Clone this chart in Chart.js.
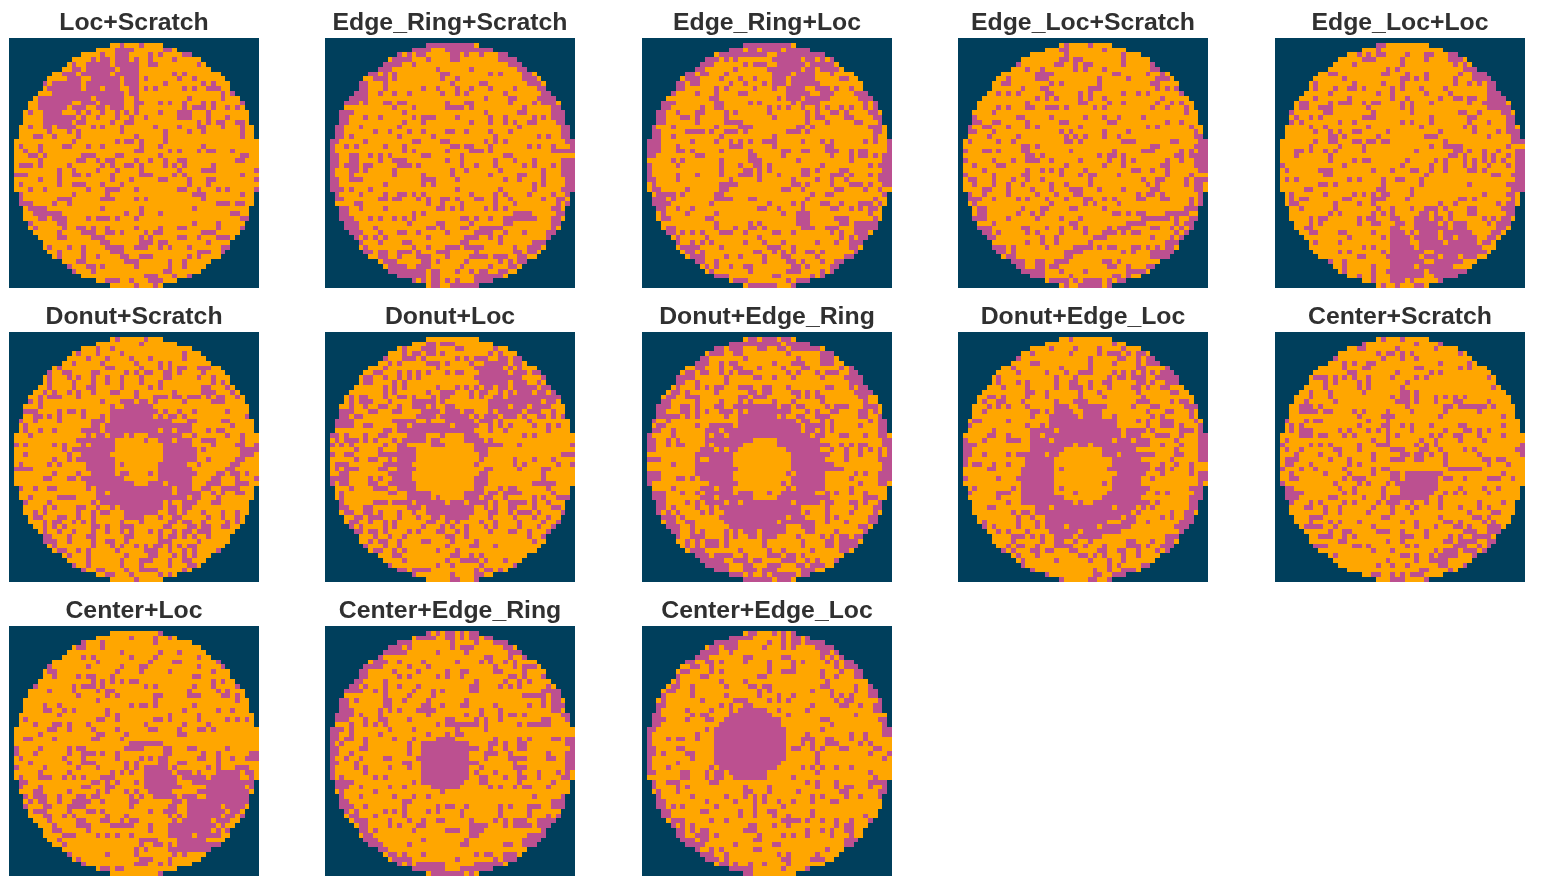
<!doctype html>
<html lang="en">

<head>
  <meta charset="utf-8">
  <title>Mixed wafer maps</title>
  <script src="https://cdn.jsdelivr.net/npm/chart.js@4.4.2/dist/chart.umd.min.js"></script>
  <style>
    body { margin: 0; background: #fff; }
    canvas { position: absolute; }
  </style>
</head>

<body>
  <script>
    const titles = ['Loc+Scratch', 'Edge_Ring+Scratch', 'Edge_Ring+Loc', 'Edge_Loc+Scratch', 'Edge_Loc+Loc',
      'Donut+Scratch', 'Donut+Loc', 'Donut+Edge_Ring', 'Donut+Edge_Loc', 'Center+Scratch',
      'Center+Loc', 'Center+Edge_Ring', 'Center+Edge_Loc'];

    // first and last die column of wafer rows 1..51
    const rowStart = [21, 18, 15, 13, 12, 11, 9, 8, 7, 7, 6, 5, 4, 4, 3, 3, 3, 2, 2, 2, 1, 1, 1, 1, 1, 1, 1, 1, 1, 1, 1, 2, 2, 2, 3, 3, 3, 4, 4, 5, 6, 7, 7, 8, 9, 11, 12, 13, 15, 18, 21];
    const rowEnd = [31, 34, 37, 39, 40, 41, 43, 44, 45, 45, 46, 47, 48, 48, 49, 49, 49, 50, 50, 50, 51, 51, 51, 51, 51, 51, 51, 51, 51, 51, 51, 50, 50, 50, 49, 49, 49, 48, 48, 47, 46, 45, 45, 44, 43, 41, 40, 39, 37, 34, 31];

    // failing die columns, one string per wafer row 1..51
    const locScratch = ['23 27', '22-25 32-33', '19 22-24 29 31 36-37', '17 19-20 22-24 26 29 34', '13 16-20 22-26 29-30 39', '13-14 16-21 23-26', '11-13 15-20 22-26 34 36', '12-14 17-22 24-26 28 35 38', '7 9-14 16-22 24-26 32 40 42', '8-14 16-18 20-22 25-26 28 30 36 38 41-43', '9-23 25-26 44 46', '6-16 18-23 26 37 44', '6-12 15-17 19-23 26-27 31 33 36 40 42 48', '6-11 13-15 18-19 21-23 26 36 38-40 42 45 47', '4 7-10 14 16 19 22 24 26 31 35-37 41', '7-13 15 18 22 25 28 35-37 41 45', '7-12 14-15 21 24-25 39 41 43-44 47-48', '4 7-8 10-13 17 19 23 30 35 39-40 44 48', '8 12 14 23 32 37 40 48', '5-6 9 14 26 32 48', '13 22 24-25 27 32', '2 6 11-12 16 19 27 31 40', '3 6 26-27 33 35 39 41-42 46', '4-5 7 15-17 22-23 31 48-49', '6 14-15 18 20-21 26 29 32 35-36 47-48', '2-4 6 12 19 21 24-25 27 32 34 36 42', '10 13 18 22 27 35 40-42 51', '1-3 10 13-14 16 21 27-29 34 36 48', '6 10 21 25 31-32 37 41-42 51', '2 10 13-15 19 23 37 41', '4 7 16 20-22 26 35-36 39 43 45 51', '2 13 20 38-40 48', '1-2 10-12 19-21 26 28 40', '2-4 9 12 43-45 47-48', '4-7 19 27 38', '5-10 24 27 31 46-47', '6-7 9-11 16 18-20 22 26 48-49', '4 10-11 38 43', '5 11 14-15 17 20 26 31 35-36 43 48', '10 15-17 20-21 23 28 30-31 40-42', '10-11 17-19 27 29 35-36 39 43-45', '19-20 27-29 31-32 41', '8 12 15 20-23 26-28 31 33 37 44-45', '10 15 21-23 39-41 44', '10 15 18 23-24 27-29 37 39', '14-15 24-26 33 36', '12 16-17 19 26 33 36', '13 17 32-33', '28-30 34 37', '20-22 25 29-31', '26 30'];

    const edgeRingScratch = ['21-30', '18-21 25-34', '15 17 19-20 26-27 29 32 36-37', '14-17 21 26-27 36-39', '12-15 18 38-40', '11-13 23 30 40-41', '9-10 12 14 24-25 34 36 41-42', '10-12 14 24 27 41-43', '7-8 12 26 32-33 42-44', '7-8 12 20 23 27 30 34 39 44-45', '6-8 11 14 17 24 27 29 37 45-46', '5-7 8 33 38-39 44-47', '4-6 8 12-13 15-16 25 29-30 38 43 45 46-47', '14 18 25-28 30 41 47-48', '3-5 16 33 40-41 47-49', '3-4 8 11 18 20-22 27 34 37 43 45 47-49', '3-4 16 20 30 34 37 39 42-43 48-49', '2-3 7 15 40 49-50', '2-3 10 13 17 20 25-26 29 34 38 49-50', '2-3 5 15 22 35 44 46 49-50', '1-2 8 18-19 24-25 33 35 37 50-51', '1 4 6 12 16 26-27 29-30 34 42 44 47 51', '1 16 18 25 30-32 34 47 48-51', '1-2 5-6 9 11 13 20-21 28 37-38', '1-2 5-6 11 14-16 25 28 35 39 43 49-51', '1-2 4-6 8-9 15-17 19 28 31 35 41 43 47 49-51', '1 5-6 8 14 26 29 36 45 49-51', '1 5 14 20 26 34 40-41 45 49-51', '1-2 5-7 20-22 27 37 40 45 50-51', '1-2 12 20 22 43 45 50-51', '1-3 5 9 27 36 43 49-51', '2 7 12 15-16 18 20 30 35 37 42 47 50', '2-3 11-12 14-15 19 21 24-25 27 31-32 35 38 45 48-49', '6-7 21 24 28 35 39 48 50', '3-4 7 12 23-24 26 28 33 35 37 47-48', '3-4 18 20 39-42 48-49', '3-5 9 11 14 16 18 28-29 31 34 37-43 47-48', '4-6 17 23-24 30 37-38 47-48', '4-6 10 21-22 24 28-29 32-36 47', '5-7 11 15-16 19 25 31-34 37 41 46-47', '6 8 10 12 21 29-31 34 36 46', '7 11 16-17 28-29 36 43-45', '8 18 21 25-27 29-32 39 42-44', '8-9 11-12 15-17 19 23-25 31 39-40 42-43', '11-12 15 19-21 25 30-33 35-37 40-41', '12-14 20-21 23 29 36 38 40-41', '13-16 19-21 28 34 38-39', '13-20 22-23 27 30 32-33 36-37', '15-20 22-23 31 32-36', '17-18 20 22-23 25 27 31-34', '22-23 26-31'];

    const edgeRingLoc = ['21-30', '18-20 22-23 25-28 30-34', '16-19 20-25 28-34 35-37', '13-15 17 19 27-32 34-35 37 39', '12-14 21 23-25 28-33 35-39', '11-12 19 26-32 34-35 37-40', '9-10 12-13 17 27-30 32-35 39', '9-11 16 20 23 27-29 31-35 41-42', '7-8 10-11 18 21 25 27-29 31-36', '7-8 15 17 23 27 30-33 36-38 40 43', '6 11 15 20-21 30-34 37-39 44-46', '14-15 28 30-32 34-37 38 45-47', '4-6 15-16 22 24 31 33-36 46 48', '4-5 12 15-16 26 28 30 33 36 38 41 43 46 48', '3-4 7 11-12 17 19 26 34 36 39-40 42 47-48', '3-4 8-9 11 17 27 34 36-37 42-43 48-49', '3-4 11 17-20 34 38 44-45 49', '2 6 15 20-22 32 33 35 47-49', '2-3 9-12 14 17-19 21 30-32 34 48-49', '2-3 6 16 27 48', '1-3 10 15 18 20 22 25-27 33 37 39 46 48 51', '1-3 7 18-20 27 38-39 51', '1-3 7-8 10 16 22 29-30 33-34 38-40 43 45-46 51', '1-2 11-12 22-23 29 39 43 45-46 48 50-51', '6 8 16 22-24 32 43 50-51', '1 7 16 20 23-24 26 37 47 49-51', '1 16 21-22 24 26 33-34 36 41-42 50-51', '1 7 11 16 20-22 24 28 33-34 39-41 43 47 49-51', '1-2 7 18 24 31 36 39 42 49-51', '2 16-18 19 31-32 34 39 43-45 47 50-51', '2-3 9 16-17 29-30 33 40-41 46 49', '3-6 8 15-16 35 38-39 50', '2-4 6 15-16 17-18 22-23 34 48', '2-5 14 26 31 33 37-38 41 45-47 49', '3-4 7 10 24-25 28 33 39-40 43 45 47-48', '4 9 15 29 32-34 47', '4-5 13-14 32-34 40-42 48', '3 15 22 24 32-34 41-42 44-48', '5-6 15 19 22-23 25 33-35 38-40 44-48', '5-6 8 10 12 16-18 21 27-28 31 39 41 44-46', '7 13 24 41 43 45-46', '7 10 12 14 21 25 29 36 40 43 44-45', '8-10 11 16 26-28 31 43-44', '9-10 12 23-24 27 29 31 34-35 37 44', '10-12 17 20 25 29-30 36 42-43', '11-12 15 25 30-31 33 37 40-42', '13 15 18 21-22 31-32 34 39-40', '14 22 30-32 37 39-40', '14-17 27-28 35 37-38 39', '15-17 19-21 30 32-34', '22-24 25-27 31 33'];

    const edgeLocScratch = ['22 27', '21-22 30', '22 34', '21-22 24 25 34', '12 20-21 24 26 27 34 40', '14 17 24 26 30 40-41', '16-19 32-33 39 42', '10 16-18 29 35 41-43', '9-10 19 21 29 40-41', '13 17-18 27 28-29 41 43 45', '8 10 12 18-19 25 27 34 37 39 46', '16 18 20 25 27 30 42', '14 25-26 31 34 41 44 46', '8 10 14-15 18-20 22 28 30 40 43 47', '7 47', '3 12-13 19 26 30 33 38', '3-4 7-8 14 21-22 31-32 43 46', '2 5-6 10 14 16 25 39 41 48', '2-3 7 21 23 30 35 49', '6 12 22 24 26 30 33 49-50', '2 8 11 22-23 25 34-36 44-45 50-51', '13-14 16 40 41 49-51', '1 5-6 8 13-14 23 32 38-40 46 48 50-51', '14-15 17 29 31-32 34 45-46 48-51', '1 7 11 14-16 19 25 31 34 36 43 46 49-51', '3 8-9 22 30 34 42-43 49-51', '5 14 17 19 21 26 36-37 40 43 50-51', '1 7 13-14 21 25 27-28 33 43 48', '2-3 7 11 14 17 27 38 41-42 47 49-51', '3 7 10 13 19 22 27 39 41 47 49-50', '5-6 10 15 19 23-25 29 34 40-41 49-50', '2 5 10 16 20 24-25 37 39-40 42 50', '2-4 7 12 14 18 22 26-27 30 32 37-38 42-43 48 50', '3 19 26 28 33 48 50', '4-5 13 17-18 23-24 30 47-49', '4-5 12 15 17 32-33 35 37-38 43-47', '3-5 10 16 21 25 38-43 45 48-49', '7 23-24 35-38 45 47-48', '4-6 13-14 18 21 24 26 31 33-35 40-41 44 46 48', '5-6 8 14 16 21 26 30-32 34 36-37 45 47', '6-7 17 20 28-30 40 44 46', '14 17 20 27 43-45', '7-9 11 18 24-27 29 31-32 36 37 39 41 43-44', '8-9 11 22-23 24-25 34 36 40-44', '10 11 22-23 40-43', '11-13 16-17 20-22 30-31 33 42', '12-13 16-17 19-20 31-32 35 39-40', '13-14 15 16-17 21 26 35-38', '15-17 23 32-33 35', '19-22 24 26-29 31 33-34', '22 25-29 31'];

    const edgeLocLoc = ['21-22', '21', '17 19 21-22 27 31-32 36-37', '18-20 26 31 36-38', '16 26 37 39', '23 25 39-41', '11-12 22-23 27 31 38 41-43', '14 26-27 29 31 37 41-44', '8 16 22 26 37 40 42 44-45', '8 12 15-16 18 24 26 30 35 44-45', '11 21 24 31 36 44-46', '8 15 24 27 34 37-38 40-41 44-47', '5-6 11 13-15 18 20-21 26 28 32 40 43 44-47', '5-6 9-11 19 26 28 44-48', '3 10-11 20 28 38-39 42 47-48', '4 7 9 18-20 32 40-41 48-49', '3 5 13 16 26 28 32 40 44 48-49', '7 10 19 30 39 41 48-49', '8 11 13 16-17 23 34 41 46 48-50', '11-12 14 21 31-33 44 49-50', '8 11-12 16-17 19-20 22-23 35 49-51', '7 13 18 32 35-37 38 48', '4-5 7 10 12 18 29 37-38 40 43 46 50-51', '4 11 36-37 39 43 45 48 50-51', '11 16 18-19 27 33 35 39 41 43 45 47 50-51', '1 14 26 32 35 39 41 44 48 50-51', '2 9-11 20 24 28-29 32 35 40-41 43 50-51', '10-11 31 45-46 49-51', '2 4 15 17 22 25-26 30 50-51', '9-10 12 22 30 40 48-51', '6-7 21-22 28 49-51', '3 10 16 18 20 22-23 28 43 48-49', '3 5-6 14-15 20-22 27 38-39 41 49', '3-4 12 17 20 34 37 46 48-49', '5 12 21 24 28 31-33 35 40-41 47-49', '11 13 20 22 24 30-31 33 36 40-41 48-49', '7 9-10 17 19-20 24 25 29-31 33-34 36 43 45 47-48', '7 9 17 20-21 25-26 29-33 35 37-39 44 46-48', '6-7 24-25 29-35 37-39 46-47', '7-8 13-14 20 24-26 28 30-33 35-38 39-40 45-46', '15 22 24-27 29-33 35-36 38-41 44-45', '8 13 24-27 30-34 36-41 43-44', '18 20 24-28 30-42', '13 15 22 24-30 33-43', '17-18 23-29 31-33 35-37 39-41', '11 14 24-30 33-38', '11 14 20 24-28 30-36', '12 14 20 23-30 32-40', '17 20 24-27 28-30 33 34-39', '16 20 24-26 28 34-36', '19 22 25 29-30'];

    const donutScratch = ['22 28', '27', '14 18 21', '14 18 23 36', '16 20 25 29 36', '13 19 26 31 33', '10 20 21 27 31 33 35 36 39 40 41', '8 11-12 17-18 24 26 28-29 32-33 35 40', '8 12 14 17 20 23 27 32-33 39 42', '8 13 17 20 23 27 31 42 44', '8 13 16-17 23 29 31 40-41 45', '7 9 12 14 17 21-22 26 34 40-42 46', '6 8 9-10 14 26 30-32 34-35 37-39 41 43-44 47', '4 6 19 23-25 27-28 30 36 42-44', '6 21 24-29', '3-5 10 12-13 15 21-30 32 35 38 45', '5-6 8 10 15 19 21-29 31 33-34 36 49', '2 5 10 17-19 21-33 37-38 44-45', '3 17-18 20-37 46', '3 6 9 15-18 20-30 32-33 35-37 41 43-44', '4 16 18-19 21-23 25 29-35 38 45 48', '14-21 28 31-33 35-37 40-42 48', '1 3 9 11 15 17-21 32-37 42 47-48 51', '11 13-21 32-38 40 48-51', '3 12 15-20 32-38 48-50', '9 12 14-21 32-38 41 47-48', '2 8 10 16-21 23 31-36 39 46-47', '1-4 16-21 31-37 45-46', '9 14 17-21 23-24 29 31-38 43-44 46-47 49', '7-8 12-13 15-23 31-37 42-43 47 51', '16-25 29-31 33-37 41-43 47-49', '2 5 8-9 16 18-33 35-37 40-41 44-47', '18-19 21-33 35-39 42 44 47-48', '4 10-12 13 18-36 38-39 43', '3 8 17 19-31 33 36-38 42-43', '7 9 14-15 18 21 23-31 33-34 36-37', '5 7 14 17 19-20 24-30 33-34 36 40 44 47', '5-6 10-11 14 17 24-26 27 31 34-35 41 44 47', '7 9-10 13 15 17 23 27 33-34 36-37 40 45 47', '7 9 11 17-18 20 23-25 32-33 37-38 40-41 44-45 48', '7 10 13 17 20 23 25 29 31 34 36-37 39-41 48', '7-8 12 16-17 24-25 31 33-34 36 38 41', '7-9 12 17 20-21 24 31-33 39', '9 17 21 23 26 28 30-31 33 35 37-38', '10-11 14 16 22 28-30 33 36 38 43', '12 16 24 29-30 34 36 38', '16 23 27-29 33 36-37', '13 16 23 27 33 37-38 40', '15 18-19 24 27-29 30 36', '17 20-21 25 31 33', '26'];

    const donutLoc = ['', '21-22 24 25-26', '16 20-22 27-28 35', '16 18-19 21-22 24 34 36', '12 16-18 20 27 29 31-33 36-37 39-41', '13 15 21-23 25 30 33-37 39-40 42', '12 23 31-36 38 40', '10-11 15 17 19 21 25 27-28 32-37 39-41 43 44', '8-9 12 15 17 19 31-37 38-40 45', '8-9 14 16 32-37 39-41 44', '12 14 16 23 27 29 31 33-34 36-37 39-43 45-46', '12 14 21 24-25 26 30 32 33 36 38 40-42 44-45 47', '5 7-8 12 15-16 18 22 24-25 30 32 35-36 38-47 48', '5 7-9 13 18-22 24 34-44 46 47', '5 8 11-12 15 18-20 22 25-26 34-37 39-41 43-44 45-46', '3-5 9-10 14-15 20-23 25-27 29-30 34 36-38 39-40 42-44 47', '3-4 6-7 19-22 24-25 26-29 31 33-35 37-39 41 44-45 47 49', '2-5 14-15 16-18 21 25-29 30 32 33-34 36 42', '2-5 8-9 15-16 18-25 27-31 34 36 38 43 46 48', '12-13 15-17 18-26 27-30 34 37 46', '1-2 4 8 11-12 17-20 24 29-31 41 43', '2 4-6 8 10 14 16-20 22-23 29-32 34', '1 3 5 12 15-16 22-24 31-36 40 51', '6 11 15-18 31-33', '1 4-5 11-18 32-33 49-51', '6 9-10 13 15-18 32 39 43 47', '2-4 12-17 31 39 41 48 51', '2 4-6 11-12 15-18 33-34 40 45 46', '3-4 13-17 32-33 45', '1-4 9 11 14-17 31-33 45', '1 3-4 9-10 13-14 15-18 31-33 43 44-47', '5 10-12 15-18 31-32 36 38-39 46', '3 13 14 17-21 29-32 34-35 37-40 47', '3 17-21 23 29-31 33-34 37 43 45 48-50', '2-3 10-12 14-17 19-24 26-28 30-33 35 38-41 43 46', '3 4 8-9 17-19 21-30 33 35 38-39 43 47-48', '4-5 8-9 11 15 18 21-30 34 35 38 40-42 44 49', '6-7 9-11 15 19 22-23 25-27 28-29 34 39 43 46', '5-6 9 12 14 21-22 25 27 32 35 40 45 48', '5 7 12 14 20 24 26 29 33 35 40 44 47', '6-7 9-10 12 17 19 23-24 27 29 34 38-39 42 46', '10 13 16 25-26 29 42 45', '9 11-12 15 20-21 26 31 43', '8 12 15 25 30 31 35', '10-11 14 16 23 27', '14-15 26-27 30 32', '16 25 28-31 33 37', '13 23 26 32 39', '15-16 18-21 31 33-34 36', '17-18 26 31-32', '26-27 31'];

    const donutEdgeRing = ['22-23 25-27 29-30', '18-28 30-34', '15-16 18-20 24-25 28-29 31-36', '14-15 16 19-20 30 37-39', '12-13 21 32 37-39', '11-12 13 16 18-19 27 31-33 37-39', '11 12 16 19-20 24 29 33-34 41 43', '9-10 12-13 16 18 20-22 30 32 36 38-40 43-44', '7-10 17 23-24 27 31 37 42-44 45', '7-8 11 17 43-46', '7 11 13 15 16 20-22 25-26 30 38-39 43 45-47', '6-7 9 15 22-23 25-26 31-32 34 36 44 45-47', '5-6 9-10 11 20 21 23-25 32 34 36-37 45-46', '4-5 11 16 20 22 27 31 37 46', '3-5 8-9 11 15-16 19-27 29-30 32-33 38 40-42 46-48', '3-4 8-9 11 13 16-18 20 22-30 34 36 39-40 45-46 48', '3-7 9 11 17 20-27 29 32-33 36-38 45-46 49', '2 5 20-31 33-34 37 39 47 49-50', '3-4 11 14-18 20-32 34-37 39 45 49-50', '2-3 6 13-15 17-32 34-35 37 39 49-50', '1 6 13 15-16 18-34 36-37 41-42 46 49-50', '1-2 5 7 13-22 28-36 50-51', '1-2 5 7-8 13 15-20 28-38 41 43 45-46 50-51', '1-2 12-14 16 18-19 30-36 39 42 45 47 49 51', '11-18 31-38 42 45 49 51', '1-3 11 14-18 31-37 42 49-51', '6 11-18 31-39 50-51', '11-19 31-41 50-51', '1-3 11-18 30 32-37 44 46 49-51', '1-3 7-8 10 12-18 31-37 43 49-51', '1 14-19 29 31-37 45 49-50', '6 12-14 16-18 30 32-37 43', '2-4 8 11 13-18 20-22 26 29-35 38 40 43 46', '2-4 12-14 16-22 28-38 46-48', '3-4 9 11 13-16 18-19 21-30 32-36 38-39 43-44 46 49', '3-4 6 11 14 16-32 38 44 48-49', '3 5 7 12 14 17-32 34 38 43 48', '4-6 8 16-29 31-33 38 40 47-48', '5-6 9-10 17-27 29-35 38 42 47-48', '5-7 10 18-29 33-35 45-46', '6-7 10 12 17 19 21-23 25-29 34-35 40 46', '7 10-12 17 19 22-23 25-27 32 37 39 41-42 44-45', '9 11 13-15 17 25 33 38-39 41-44', '9 11 13-15 17 25 33 38-39 41-44', '10-12 20 26 29 35 41-42', '11-13 15-18 21 26-28 30-31 33 42-43', '12-15 16 19-21 23 24 29-31 34 36 40 43', '13-16 17 21-22 26-28 32-33 35-37 40-41', '15-17 21-23 25-27 33-35', '18-20 22 25 27-31 33-34', '21-25 26 28-30'];

    const donutEdgeLoc = ['23', '32', '19 24 29 34', '15 23 29 31-33 35 37-38', '12 27 33-34 37 39-40', '15-16 27 32 37 39 40-41', '11 21 27 37-38 43', '12 18 22 25-27 32 34 36 38 40 42-44', '8 20 24 31 33-34 36 37-38 41 42-45', '8 12 14 20 23-24 27 30-31 37-38 40 43-45', '9 14 20 23-25 27 31 36-37 39 42-43', '14-15 18 25 29 37 44-45', '6-7 9 14 18 25 30 38', '5 8-9 13 20 24-26 37-39 44 46-47', '6 8 10 14 20-22 25-27 28-30 36 40-41 47-49', '5 15-16 18 20-23 26-29 39 43-44 48', '15 19-24 26-29 32 40 42 48', '3-4 10 19-32 37 39 42-44 49', '2 14 17 19-32 39 42-44 46 50', '7 15-16 17-19 21-33 35 36-38 40 46-48 50', '6-7 10 15-16 18-33 35-37 41-43 46 50-51', '1 5 10-12 15-18 20-31 33-35 37-39 45 50-51', '1-3 15-23 25-26 28-39 42 46 50-51', '1-2 15-21 30-36 45 50-51', '1-2 5 10 12-17 19-20 30-32 34-40 45-46 50-51', '1 14-19 32-37 44 50-51', '1 3-4 7 10 14-19 32-39 42 45 48', '6-7 13-19 21 31-39 41-42 44 48', '13-19 33-38 42 48 50-51', '1 8 12-19 32-37 40 50-51', '13-19 30 32-37 50', '3 11 13-19 21 32-39 48 49-50', '2 8-10 13-19 24 31-38 41 43 49-50', '8 13-21 30-37 48-50', '10 13-23 25 28-39 41 48-49', '6-7 16-18 20-31 33-36 38 40 48-49', '11 13-14 16-35 37 44 47-48', '12 15 18-33 35-36 42 44 47-48', '5 12 16 18-30 34-36 39 46-48', '5 7 12 16 18-21 23-28 30-35 45-47', '8 10 14 19-24 26-33 46', '11-13 15 17 20-23 25-29 43-45', '11 17 20-21 24 27 35-36 40 43-44', '10 12-13 16 20-23 26 30 35-37 39 42-44', '9 11 15-16 18-19 23-24 29-30 33-34 37 41 43', '9-10 12 16 25-26 28 30 34 37 42', '11 13 20 27 31 34 43-44', '12-13 31 33 38-40', '13-15 28 31 34-36 38', '15-16 18 28-29 32-35', '18-21 27-28 31-33'];

    const centerScratch = ['22 26', '18 29 34', '17-18 25 33', '21 23-24 26 28 38', '12 22 26 29', '14 16 19-20 34 40', '14 18 19 29-30 38 40', '15-16 25 32 34', '8-10 12 14 16 19 24 29 31 44', '10 12 17 19 27', '10 17 19 26 45', '7 11 18 26-27 29', '7 11 24 26-27 29 33 35 37 39', '6 12 25-27 29 33 37-38 44', '5-7 9 27 35-36 38-42 43 45', '5-8 10-11 16 18 23 28 35 42', '17 22-24 34 47', '2 6 8-9 19 23', '3 5 17 22-23 26 28 32 38-39 47', '3 5-7 13 15 19 21 23 28 35 39-40 42 44', '5-6 7 9-10 14 16 23 25 32 34 37-38 42 47', '2 20 23 30 33 38 43', '1 7 9 11 17 21-23 29 31 33 51', '2 5 12-13 17 24-26 30-31 34 39 41 50-51', '4 9 13 20 26 27 29-30 32 35 42 51', '2-4 11 15 20 24-26 29-30 35 43-44 46-47', '2-3 7 15 17 35 44 48', '1 5 8 14 20 22-23 36-42', '3 10 15 20 24-25 27-34 47', '3-4 14 16-17 18 24-25 27-33 35-36 39 44-46 49', '1 12 17 19 23 25-26 27-33', '2-3 13 16 22 26-33 38 43 46', '2-5 14 16 22 26-32 35 37 39 44', '2-4 11-12 18 22 24 25-31 34', '3 7 9 14 16 21 23-25 28 31 34 42 47', '6-7 10 13 20 24 27 29 34 38 42 44', '10 13 19 24 28 40 45-46', '7 8-9 22-23 34 41-42 44', '3 7 11 13 17 26 29 35-36 38 43 45 49', '4 6 7-9 12 20 29 33 37-38 40 44-46', '11 14-15 21-23 26 31 39-41 44-48', '6 9-10 11 14 16 26-28 31 36 38 41-44 47-48', '13-14 23 26 35-36 38-41 44-45', '7-10 16-17 19 27 29 37-39 42 44', '7 20 24 33 35-37 39-41 43 45', '12 26-27 29 32 34-37 41 43', '10 23 29 32-35 41', '21 24 27 34-35 39 43', '12 30-31 36 38 39-40', '17 20-21 24 26 28-30', '24-26 31'];

    const centerLoc = ['31', '25 30 33', '15 19 30', '14-15 19', '23 31 35', '15 17 25 30 39', '18 29 34-35 43', '8 16 23 27-28 39 44', '8-9 22 27 33 42', '9 14 16-17 21 38 39', '17 19 21 23 25-26 42 44', '5 13 15-17 19 28 30 38 42 47', '8 13 18 20-21 37 43 45', '14 20 22 30-31 37-38 39 44-45 47', '18 30 47', '7 10 25 27-28 30 38', '7-8 11 13 20 36 43 46', '10 20 22 33 39', '3 18-19 22 30-31 33 39 45 47 49', '5 9-10 12 16 28 36 41', '8-9 12 17 22 29-30 35 39-40 42', '6 18-19 24 35 36', '3-4 9 17-18 23', '25-30 31', '1 6 12 14-15 24-27 32-33 37-38 45', '1 5 12 15-17 19 22 32-33 40 43 50-51', '2 11 15 22 27 29 31-32 39-40 43 46 49-51', '4 12 15-17 24 26 31-32 35-36 43', '1 7 14 18 24 26 28-32 34 41 43 47-49', '6 12 21 23 25 28-33 35-37 39 43-47 49-50', '2 6-8 11 13 15 19-21 28-34 36-40 42-46 47 50', '2 3 17-18 20 22 26 28-34 38-42 43-50', '2 6 15-16 20 21 28-35 41-43 44-48 50', '5-6 12 18 20 24 26 29-33 39-49', '3 5-7 10 14-15 17-18 25 27 30-34 36-38 41-49', '2 4 6 7 10 13-16 19 25-26 34-35 37-49', '3 7-8 12-15 25 33-34 37-43 45-48', '5-7 12 16-17 19 29 32-34 37-44 46-47', '7 8 11 13 20 24 33 35 37-43 45 46 48', '8 14-15 19-20 23 25-26 34 36-41 43-45', '9 14-16 21-23 24-25 29 33 34-42 44', '9-10 16 29 33-35 36-41 43 45', '11 12 13 18 20 22 25 33-37 39-43', '10 27 28-30 35 36-40', '11 27 30-31 33 35-41 42-43', '26 28 33-34 35-41', '12 20 26 34 36', '14 27-29 33', '15 26-28 31 33', '16-17 19-20 22-23', '31'];

    const centerEdgeRing = ['21 23 25-26 28 30-31', '19-22 25-26 28 30-31 33-34', '15-17 26 31 35-37', '13-15 17 26 28-30 37-38', '12-16 23 29 38-40', '11 33-34 38 41', '10-12 15 20 27 32 34 37 39', '8-11 17 21 35 39 41-43', '7-8 14 19 25 28-29 35-36 41', '7-8 15 17 23 25 28 38-39 41 45', '6-7 12 31 37 40 42', '5-6 8 12 15 19 30-31 36 38 40 46', '4-7 10 12 18 22 24 30-31 45-48', '12 17 22 41-45 47-48', '3-4 6 12-13 16 21 29 45 47-48', '3-4 12-13 20-21 24 28-29 35 42 45 47-49', '3-5 11 13 15 19-22 32 36 47-48', '2-5 7 11 21 29 32 36 38-39 41 49-50', '2-4 8 11-12 17 25-26 31 33 36 45-46 50', '5 8 10 12 23 25-28 29-31 33 40 42-46', '1-3 5 13 18 27 33', '1-2 5 11 21 25 27-28', '1-2 4-5 8 14 18 23-26 35 40 42 47-48 50-51', '1 3 8 17 20-29 34-35 37 40-41 50-51', '1-2 7-8 17 20-31 34 37 40-41 51', '1-2 5 17 20-29 33-35 38 46 50-51', '1 4 7 12-13 19-29 33 38-41 46-47 50-51', '1-2 6 16-17 20-31 39 50-51', '1 6 8 13 17 20-29 32 39-41 50-51', '1 8 20-29 31 35 40 44 48 50', '1 3 10 12 20-29 32-33 37 40-41 44 49-50', '2-5 18 20-28 32-33 40 47', '2-4 7 13 16 22-27 34 36 39 41-42 46', '3 10 24', '3 7 14 18 21 43 49', '3-4 16-17 47-49', '3-5 8 16 23 25-26 29 36 38 42-44 47-49', '4 6 12 14 16 21 23 28 36 42', '5-6 10 16 28 36 42 46 48', '6-8 13 17 20 23-24 30 35 37 39-41 44-47', '7-8 13 15 19-20 30-33 37 39-41 42 44-46', '7-8 10 18 25-27 30-32 45', '8-9 30-31 42-45', '8-10 20 29 41-44', '9-11 17 28-29 37-38 41-43', '11-12', '13-14 16 20 31 33-34 37-39', '14-17 27 35 37-39', '15 17 19-22 23-24 31-36', '18-22 23-24 28-34', '22-28 30'];

    const centerEdgeLoc = ['22-23 27 29 31', '18-22 29 31-32 34', '15-19 26 29 31-32 34-37', '14-15 17-19 25 29 31 36-39', '12-15 18 37-38 40', '11-13 21-22 29-30 37 39 41', '9-10 13-14 16 21 26 31 33 38 40 42-43', '10-11 14 26 31 40 42-44', '8-9 14 16 26 29-31 37 41 44-45', '7 12-13 24-25 37 40 44-45', '7 16 21 38', '6-7 10 17 22-23 25-26 37-38 44 47', '5-6 10 24 26 35 39 44 47-49', '4 10 17 24 28 31 39 41 43 47-48', '4 12 19-21 26 28 30 40 42-43 49', '3-4 16 18 21-22 35 41-42 45 48-49', '3 9 14 18 20-25 28 34 48-49', '2-3 10 12-13 18-26 30 44', '2-4 9 13-14 17-28 37-38 49-50', '2-3 16-28 39 50', '1-2 13 15-29 37 50-51', '1 11 15-29 34 43 46 50-51', '1 5 7-8 11 15-29 33-35 38-39 43 46', '1 15-29 33 35 38-40 45 47', '1-2 7-8 15-29 31-32 35 37 41-42 48-49', '1-2 4 9-10 15-29 36 47 51', '1 10 15-29 36 50', '1 7 15-28 36', '1 5 14 16-27 33 35 37 40 43', '1-2 8-9 13 15-16 18-25 36 47', '8-9 13 15-16 19-25 31 48', '2 5-7 14-15 34 36 40 47-50', '2 7 9 21 26 36 40 42-43 47 50', '3 7 21-22 26 32 41-42 49-50', '3 10 17 21 23 25 35 37 42 45 49', '3-4 13 19 23 25 28 31 35 39-40', '3-4 6 8 15 23 29', '4-5 12-13 20 23 26-27 35', '4-5 20 23 27 30 35 46', '6-8 14 17 29-32 34 37 40 43 47', '6 8 10 22-23 27 30 40 42-43', '7-8 10 12-13 21-23 34 37 39 42-43', '7-8 11-13 15 24 29 31 34 39 43', '8-10 12-13 23-24 42-44', '9-12 19 27-28 42-43', '11 14 16 23-24 38', '12-14 17 28 30 36', '13-15 17 29-30 35-37', '16-17 19 22 25 30', '18-20 21-22 29 34', '21-22'];

    const waferRows = [locScratch, edgeRingScratch, edgeRingLoc, edgeLocScratch, edgeLocLoc,
      donutScratch, donutLoc, donutEdgeRing, donutEdgeLoc, centerScratch,
      centerLoc, centerEdgeRing, centerEdgeLoc];

    const panelLeft = [9, 325, 642, 958, 1275];
    const panelTop = [0, 294, 588];

    function failColumns(text) {
      const cols = new Set();
      text.trim().split(/\s+/).filter(Boolean).forEach(part => {
        const [a, b] = part.split('-').map(Number);
        for (let c = a; c <= (b || a); c++) cols.add(c);
      });
      return cols;
    }

    function waferCells(rows) {
      const off = [], pass = [], fail = [];
      for (let y = 0; y < 52; y++) {
        const fails = y > 0 ? failColumns(rows[y - 1]) : new Set();
        for (let x = 0; x < 52; x++) {
          const onWafer = y > 0 && x >= rowStart[y - 1] && x <= rowEnd[y - 1];
          if (!onWafer) off.push({ x, y });
          else if (fails.has(x)) fail.push({ x, y });
          else pass.push({ x, y });
        }
      }
      return { off, pass, fail };
    }

    // cells fill whole pixels so neighbouring dies leave no seams
    const cellPlugin = {
      id: 'cells',
      beforeDatasetDraw(chart, args) {
        const { x: xs, y: ys } = chart.scales;
        const ds = chart.data.datasets[args.index];
        chart.ctx.fillStyle = ds.backgroundColor;
        ds.data.forEach(p => {
          const x0 = Math.round(xs.getPixelForValue(p.x - 0.5));
          const x1 = Math.round(xs.getPixelForValue(p.x + 0.5));
          const y0 = Math.round(ys.getPixelForValue(p.y - 0.5));
          const y1 = Math.round(ys.getPixelForValue(p.y + 0.5));
          chart.ctx.fillRect(x0, y0, x1 - x0, y1 - y0);
        });
        return false;
      }
    };

    titles.forEach((title, i) => {
      const canvas = document.createElement('canvas');
      canvas.width = 250;
      canvas.height = 288;
      canvas.style.left = panelLeft[i % 5] + 'px';
      canvas.style.top = panelTop[Math.floor(i / 5)] + 'px';
      document.body.appendChild(canvas);

      const cells = waferCells(waferRows[i]);
      new Chart(canvas, {
        type: 'scatter',
        data: {
          datasets: [
            { data: cells.off, backgroundColor: '#003f5c', pointRadius: 0 },
            { data: cells.pass, backgroundColor: '#ffa600', pointRadius: 0 },
            { data: cells.fail, backgroundColor: '#bc5090', pointRadius: 0 }
          ]
        },
        options: {
          responsive: false,
          animation: false,
          events: [],
          layout: { padding: 0, autoPadding: false },
          scales: {
            x: { display: false, min: -0.5, max: 51.5 },
            y: { display: false, min: -0.5, max: 51.5, reverse: true }
          },
          plugins: {
            legend: { display: false },
            tooltip: { enabled: false },
            title: {
              display: true,
              text: title,
              color: '#303030',
              font: { family: 'Liberation Sans', size: 24.8, weight: 'bold', lineHeight: 1.1 },
              padding: { top: 9.4, bottom: 1.32 }
            }
          }
        },
        plugins: [cellPlugin]
      });
    });
  </script>
</body>

</html>
